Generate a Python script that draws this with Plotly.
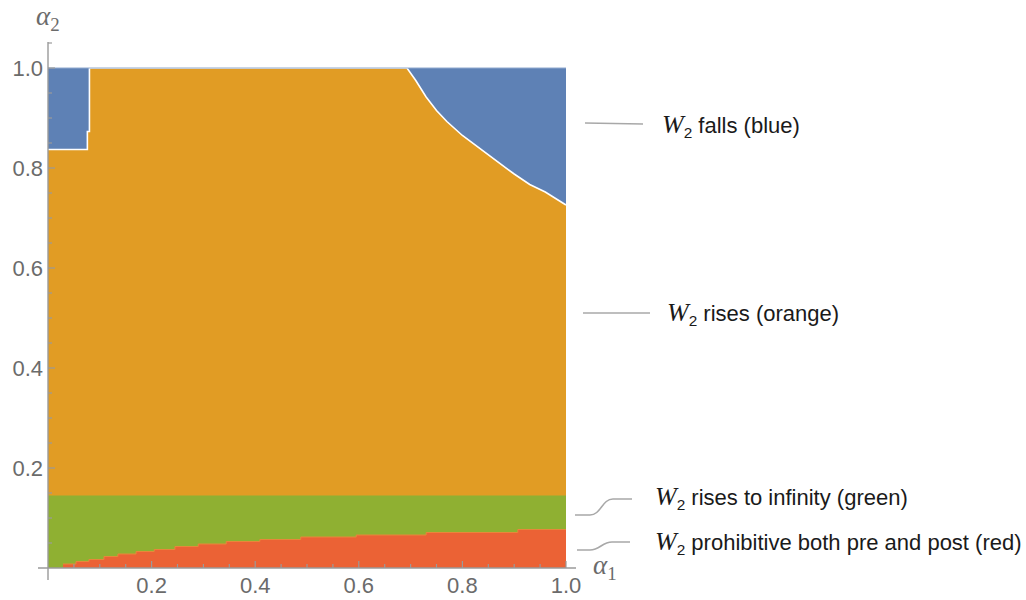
import numpy as np
import plotly.graph_objects as go

# ---- region boundaries in the (alpha1, alpha2) plane ----
# upper edge of the orange region (blue lies above it, up to alpha2 = 1)
orange_top_x = [0.0, 0.076, 0.076, 0.080, 0.080, 0.693, 0.71, 0.73, 0.75, 0.77,
                0.80, 0.83, 0.86, 0.90, 0.93, 0.96, 1.0]
orange_top_y = [0.837, 0.837, 0.873, 0.873, 1.0, 1.0, 0.975, 0.942, 0.915, 0.893,
                0.865, 0.842, 0.818, 0.788, 0.767, 0.752, 0.726]

# upper edge of the green band
green_top = 0.145

# red staircase: left edge of each step and its height
red_step_x = [0.029, 0.054, 0.079, 0.108, 0.135, 0.170, 0.205, 0.245, 0.290,
              0.344, 0.409, 0.488, 0.595, 0.730, 0.907]
red_step_h = [0.008, 0.013, 0.017, 0.023, 0.028, 0.033, 0.037, 0.043, 0.048,
              0.053, 0.057, 0.062, 0.066, 0.071, 0.077]

tick_vals = [0.2, 0.4, 0.6, 0.8, 1.0]
tick_text = ["0.2", "0.4", "0.6", "0.8", "1.0"]

region_labels = ["falls (blue)", "rises (orange)", "rises to infinity (green)",
                 "prohibitive both pre and post (red)"]

BLUE = "#5E81B5"
ORANGE = "#E19C24"
GREEN = "#8FB032"
RED = "#EB6235"
AXIS = "#9a9a9a"
TICKFONT = "#6b6b6b"

X_RANGE = [-0.0193, 1.0193]
Y_RANGE = [-0.024, 1.052]

# figure geometry (pixels)
W, H = 1026, 600
ML, MR, MT, MB = 38, 450, 42, 20
PW, PH = W - ML - MR, H - MT - MB


def paper(px, py):
    """Pixel position on the page -> paper coordinates."""
    return (px - ML) / PW, (H - MB - py) / PH


fig = go.Figure()

# blue: everything up to alpha2 = 1
fig.add_trace(go.Scatter(x=[0, 1], y=[1, 1], mode="lines", fill="tozeroy",
                         fillcolor=BLUE, line=dict(width=0)))
# orange below its upper edge
fig.add_trace(go.Scatter(x=orange_top_x, y=orange_top_y, mode="lines", fill="tozeroy",
                         fillcolor=ORANGE, line=dict(width=0)))
# white seam along the orange/blue edge
fig.add_trace(go.Scatter(x=orange_top_x, y=orange_top_y, mode="lines",
                         line=dict(color="white", width=1.6)))
# light edge along the top at alpha2 = 1
fig.add_trace(go.Scatter(x=[0, 1], y=[1, 1], mode="lines",
                         line=dict(color="#8fa9cf", width=1.2)))
# green band
fig.add_trace(go.Scatter(x=[0, 1], y=[green_top, green_top], mode="lines",
                         fill="tozeroy", fillcolor=GREEN, line=dict(width=0)))
# red staircase
fig.add_trace(go.Scatter(x=red_step_x + [1.0], y=red_step_h + [red_step_h[-1]],
                         mode="lines", line_shape="hv", fill="tozeroy",
                         fillcolor=RED, line=dict(color="#E8873A", width=1)))

shapes = []
# axes crossing at the origin
shapes.append(dict(type="line", xref="x", yref="y", x0=X_RANGE[0], x1=X_RANGE[1],
                   y0=0, y1=0, line=dict(color=AXIS, width=1.4)))
shapes.append(dict(type="line", xref="x", yref="y", x0=0, x1=0,
                   y0=Y_RANGE[0], y1=Y_RANGE[1], line=dict(color=AXIS, width=1.4)))

# inward ticks: major every 0.2, minor every 0.05
for i in range(1, 21):
    v = i * 0.05
    L = 7 if i % 4 == 0 else 4
    shapes.append(dict(type="line", xref="x", yref="y", ysizemode="pixel", yanchor=0,
                       x0=v, x1=v, y0=0, y1=L, line=dict(color=AXIS, width=1.2)))
for i in range(1, 22):
    v = i * 0.05
    L = 7 if i % 4 == 0 else 4
    shapes.append(dict(type="line", xref="x", yref="y", xsizemode="pixel", xanchor=0,
                       y0=v, y1=v, x0=0, x1=L, line=dict(color=AXIS, width=1.2)))

# leader lines to the region labels
LEAD = dict(color="#a8a8a8", width=1.6)


def seg(p0, p1):
    (x0, y0), (x1, y1) = paper(*p0), paper(*p1)
    return dict(type="line", xref="paper", yref="paper", x0=x0, y0=y0, x1=x1, y1=y1,
                line=LEAD)


def s_curve(pts):
    (a, b, c1, c2, d, e) = [paper(*p) for p in pts]
    path = (f"M{a[0]},{a[1]} L{b[0]},{b[1]} "
            f"C{c1[0]},{c1[1]} {c2[0]},{c2[1]} {d[0]},{d[1]} L{e[0]},{e[1]}")
    return dict(type="path", xref="paper", yref="paper", path=path, line=LEAD)


shapes.append(seg((585, 123), (643, 124)))
shapes.append(seg((583, 313), (650, 313)))
shapes.append(s_curve([(575, 515), (590, 515), (601, 515), (602, 499), (613, 499), (632, 499)]))
shapes.append(s_curve([(577, 550), (590, 550), (600, 550), (602, 542), (612, 542), (630, 542)]))

annotations = []
W2 = ("<span style=\"font-family:'Liberation Serif';font-size:26px\"><i>W</i></span>"
      "<sub>2</sub> ")
label_pos = [(660, 125), (665, 313), (653, 497), (653, 542)]
for txt, (px, py) in zip(region_labels, label_pos):
    ax_, ay_ = paper(px, py)
    annotations.append(dict(xref="paper", yref="paper", x=ax_, y=ay_, xanchor="left",
                            yanchor="middle", showarrow=False, text=W2 + txt,
                            font=dict(family="Liberation Sans", size=22, color="#1a1a1a")))

# axis names
for txt, (px, py) in [("<i>α</i><sub>2</sub>", (48, 18)), ("<i>α</i><sub>1</sub>", (605, 567))]:
    ax_, ay_ = paper(px, py)
    annotations.append(dict(xref="paper", yref="paper", x=ax_, y=ay_, xanchor="center",
                            yanchor="middle", showarrow=False, text=txt,
                            font=dict(family="Liberation Serif", size=27, color=TICKFONT)))

fig.update_layout(
    width=W, height=H,
    margin=dict(l=ML, r=MR, t=MT, b=MB, pad=0, autoexpand=False),
    paper_bgcolor="white", plot_bgcolor="white",
    showlegend=False, hovermode=False,
    shapes=shapes, annotations=annotations,
    xaxis=dict(range=X_RANGE, showgrid=False, zeroline=False, showline=False,
               automargin=False,
               tickvals=tick_vals, ticktext=tick_text, ticks="",
               ticklabelstandoff=-10,
               tickfont=dict(family="Liberation Sans", size=22, color=TICKFONT)),
    yaxis=dict(range=Y_RANGE, showgrid=False, zeroline=False, showline=False,
               automargin=False,
               tickvals=tick_vals, ticktext=tick_text, ticks="",
               ticklabelstandoff=-6,
               tickfont=dict(family="Liberation Sans", size=22, color=TICKFONT)),
)

fig.write_html("out.html")
